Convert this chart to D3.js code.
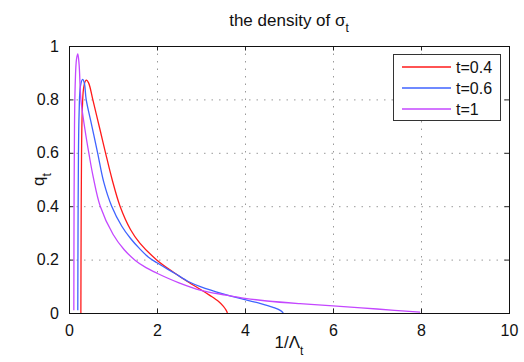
<!DOCTYPE html>
<html lang="en">
<head>
  <meta charset="UTF-8">
  <title>the density of sigma_t</title>
  <style>
    body {
      margin: 0;
      background: #fff;
      overflow: hidden;
    }
    svg {
      font-family: "Liberation Sans", Arial, Helvetica, sans-serif;
    }
    .grid line {
      stroke: #9a9a9a;
      stroke-dasharray: 1.5, 6;
    }
    .curve {
      fill: none;
      stroke-width: 1.3;
    }
  </style>
  <script src="https://d3js.org/d3.v7.min.js"></script>
</head>
<body>
  <svg width="524" height="362"></svg>
  <script>
    // values (x = 1/Lambda_t, y = q_t)
    const xTicks = [0, 2, 4, 6, 8, 10];
    const yTicks = [0, 0.2, 0.4, 0.6, 0.8, 1];
    const seriesNames = ["t=0.4", "t=0.6", "t=1"];
    const seriesColors = ["#ff1a1a", "#3f63ff", "#c447ff"];

    const redX = [0.27, 0.275, 0.285, 0.30, 0.33, 0.37, 0.40, 0.45, 0.54, 0.70, 0.83, 0.98, 1.16, 1.40, 1.61, 2.00, 2.40, 2.71, 3.00, 3.20, 3.40, 3.51, 3.57, 3.60];
    const redY = [0, 0.3, 0.6, 0.75, 0.84, 0.868, 0.872, 0.86, 0.80, 0.69, 0.60, 0.50, 0.40, 0.312, 0.262, 0.198, 0.150, 0.116, 0.087, 0.066, 0.043, 0.025, 0.011, 0];

    const blueX = [0.20, 0.205, 0.215, 0.23, 0.26, 0.31, 0.35, 0.39, 0.52, 0.65, 0.79, 0.97, 1.20, 1.40, 1.61, 1.80, 2.00, 2.40, 2.71, 3.00, 3.50, 4.00, 4.34, 4.64, 4.80, 4.87];
    const blueY = [0.01, 0.3, 0.6, 0.75, 0.85, 0.875, 0.86, 0.80, 0.70, 0.60, 0.49, 0.40, 0.325, 0.279, 0.240, 0.210, 0.188, 0.149, 0.118, 0.098, 0.072, 0.050, 0.036, 0.021, 0.01, 0];

    const purpleX = [0.11, 0.115, 0.125, 0.14, 0.17, 0.20, 0.23, 0.27, 0.36, 0.46, 0.55, 0.71, 1.00, 1.25, 1.50, 1.75, 2.00, 2.50, 3.00, 3.57, 4.00, 4.50, 5.25, 6.00, 7.00, 7.98];
    const purpleY = [0.01, 0.4, 0.7, 0.85, 0.95, 0.97, 0.93, 0.80, 0.69, 0.59, 0.51, 0.40, 0.295, 0.238, 0.198, 0.170, 0.149, 0.113, 0.085, 0.067, 0.055, 0.045, 0.035, 0.027, 0.015, 0.003];

    const series = [
      { xs: redX, ys: redY },
      { xs: blueX, ys: blueY },
      { xs: purpleX, ys: purpleY }
    ];

    const svg = d3.select("svg");
    const mLeft = 69, mRight = 509, mTop = 46, mBottom = 313;
    const w = mRight - mLeft, h = mBottom - mTop;

    const x = d3.scaleLinear().domain([0, 10]).range([mLeft, mRight]);
    const y = d3.scaleLinear().domain([0, 1]).range([mBottom, mTop]);

    svg.append("defs").append("clipPath").attr("id", "clip")
      .append("rect").attr("x", mLeft).attr("y", mTop).attr("width", w).attr("height", h);

    // grid
    const grid = svg.append("g").attr("class", "grid");
    grid.selectAll(".gx").data(xTicks.slice(1, -1)).enter().append("line")
      .attr("x1", d => x(d) + 0.5).attr("x2", d => x(d) + 0.5)
      .attr("y1", mTop).attr("y2", mBottom);
    grid.selectAll(".gy").data(yTicks.slice(1, -1)).enter().append("line")
      .attr("x1", mLeft).attr("x2", mRight)
      .attr("y1", d => y(d) + 0.5).attr("y2", d => y(d) + 0.5);

    // axes (ticks inward on all four sides)
    const tickLen = 4.5;
    const fmt = d => d3.format("")(d);
    svg.append("g").attr("transform", `translate(0,${mBottom})`)
      .call(d3.axisBottom(x).tickValues(xTicks).tickFormat(fmt).tickSizeInner(-tickLen).tickSizeOuter(0).tickPadding(12));
    svg.append("g").attr("transform", `translate(0,${mTop})`)
      .call(d3.axisTop(x).tickValues(xTicks).tickFormat("").tickSizeInner(-tickLen).tickSizeOuter(0));
    svg.append("g").attr("transform", `translate(${mLeft},0)`)
      .call(d3.axisLeft(y).tickValues(yTicks).tickFormat(fmt).tickSizeInner(-tickLen).tickSizeOuter(0).tickPadding(10));
    svg.append("g").attr("transform", `translate(${mRight},0)`)
      .call(d3.axisRight(y).tickValues(yTicks).tickFormat("").tickSizeInner(-tickLen).tickSizeOuter(0));

    svg.selectAll(".domain").remove();
    svg.selectAll(".tick line").attr("stroke", "#222");
    svg.selectAll("g").attr("font-family", null);
    svg.selectAll(".tick text").style("font-size", "16px").attr("fill", "#111");

    svg.append("rect")
      .attr("x", mLeft + 0.5).attr("y", mTop + 0.5).attr("width", w).attr("height", h)
      .attr("fill", "none").attr("stroke", "#111").attr("stroke-width", 1);

    // curves
    const line = d3.line()
      .x(d => x(d[0])).y(d => y(d[1]))
      .curve(d3.curveCatmullRom.alpha(0.5));

    svg.append("g").attr("clip-path", "url(#clip)")
      .selectAll("path").data(series).enter().append("path")
      .attr("class", "curve")
      .attr("stroke", (d, i) => seriesColors[i])
      .attr("d", d => line(d.xs.map((v, i) => [v, d.ys[i]])));

    // legend
    const lg = svg.append("g");
    lg.append("rect").attr("x", 393.5).attr("y", 54.5).attr("width", 107).attr("height", 66)
      .attr("fill", "#fff").attr("stroke", "#333").attr("stroke-width", 1);
    seriesNames.forEach((name, i) => {
      const ly = 67 + i * 21;
      lg.append("line").attr("x1", 402).attr("x2", 451).attr("y1", ly).attr("y2", ly)
        .attr("stroke", seriesColors[i]).attr("stroke-width", 1.3);
      lg.append("text").attr("x", 456).attr("y", ly + 6).style("font-size", "16px").attr("fill", "#111")
        .text(name);
    });

    // title and labels
    const title = svg.append("text").attr("x", (mLeft + mRight) / 2).attr("y", 26)
      .attr("text-anchor", "middle").style("font-size", "17px").attr("fill", "#111");
    title.append("tspan").text("the density of \u03c3");
    title.append("tspan").style("font-size", "12px").attr("dy", 6).text("t");

    const xl = svg.append("text").attr("x", (mLeft + mRight) / 2).attr("y", 348)
      .attr("text-anchor", "middle").style("font-size", "17px").attr("fill", "#111");
    xl.append("tspan").text("1/\u039b");
    xl.append("tspan").style("font-size", "12px").attr("dy", 7).text("t");

    const yl = svg.append("text")
      .attr("transform", `translate(44,${(mTop + mBottom) / 2}) rotate(-90)`)
      .attr("text-anchor", "middle").style("font-size", "17px").attr("fill", "#111");
    yl.append("tspan").text("q");
    yl.append("tspan").style("font-size", "12px").attr("dy", 7).text("t");
  </script>
</body>
</html>
